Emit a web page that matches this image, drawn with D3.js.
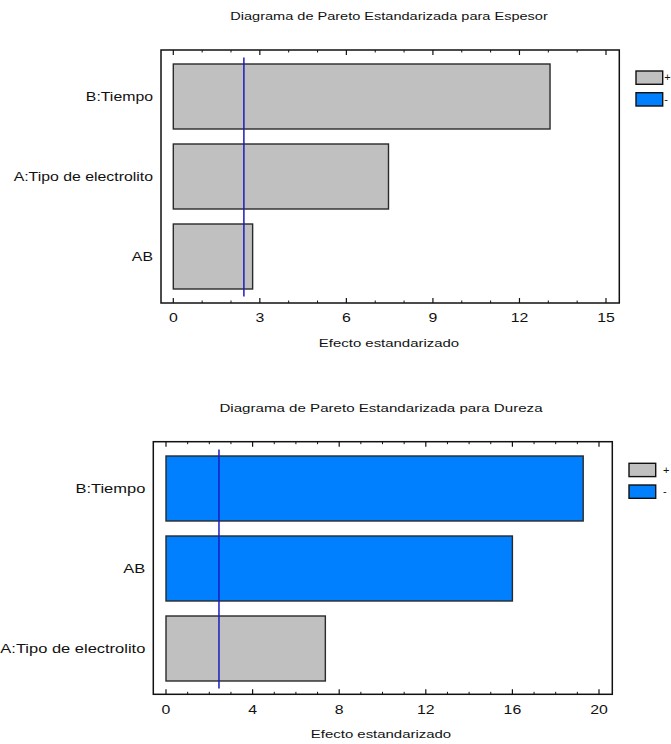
<!DOCTYPE html>
<html>
<head>
<meta charset="utf-8">
<script src="https://cdn.jsdelivr.net/npm/d3@7/dist/d3.min.js"></script>
<style>
  html, body { margin: 0; padding: 0; background: #fff; }
  svg { display: block; }
  text { font-family: "Liberation Sans", Arial, sans-serif; fill: #111; }
</style>
</head>
<body>
<svg id="chart" width="671" height="744"></svg>
<script>
// ---- Data ----
const espesorTitle = "Diagrama de Pareto Estandarizada para Espesor";
const espesorCategories = ["B:Tiempo", "A:Tipo de electrolito", "AB"];
const espesorValues = [13.06, 7.46, 2.75];
const espesorSigns = ["+", "+", "+"];
const espesorTicks = [0, 3, 6, 9, 12, 15];

const durezaTitle = "Diagrama de Pareto Estandarizada para Dureza";
const durezaCategories = ["B:Tiempo", "AB", "A:Tipo de electrolito"];
const durezaValues = [19.27, 16.0, 7.36];
const durezaSigns = ["-", "-", "+"];
const durezaTicks = [0, 4, 8, 12, 16, 20];

const criticalValue = 2.447;
const legendLabels = ["+", "-"];
const xAxisTitle = "Efecto estandarizado";

// ---- Styles ----
const signColor = { "+": "#c0c0c0", "-": "#0080ff" };
const SX = 1.32; // horizontal text stretch of the original picture

const svg = d3.select("#chart");

function stretchedText(g, x, y, str, size, anchor, sx) {
  return g.append("text")
    .attr("transform", `translate(${x},${y}) scale(${sx},1)`)
    .attr("text-anchor", anchor)
    .attr("dy", "0.35em")
    .style("font-size", size + "px")
    .text(str);
}

function drawChart(cfg) {
  const g = svg.append("g");
  const x = d3.scaleLinear().domain([0, cfg.ticks[cfg.ticks.length - 1]]).range([cfg.x0, cfg.x1]);
  const y = d3.scaleBand().domain(cfg.categories).range([cfg.bandTop, cfg.bandBottom])
    .paddingInner(0.1875).paddingOuter(0.09375);

  // title
  stretchedText(g, cfg.titleX, cfg.titleY, cfg.title, 10.5, "middle", SX * cfg.titleScale);

  // bars
  g.selectAll("rect.bar").data(cfg.categories).enter().append("rect")
    .attr("class", "bar")
    .attr("x", x(0))
    .attr("y", c => y(c))
    .attr("width", (c, i) => x(cfg.values[i]) - x(0))
    .attr("height", y.bandwidth())
    .attr("fill", (c, i) => signColor[cfg.signs[i]])
    .attr("stroke", "#2a2a2a")
    .attr("stroke-width", 1.4);

  // critical line
  g.append("line")
    .attr("x1", x(criticalValue)).attr("x2", x(criticalValue))
    .attr("y1", cfg.bandTop + 1).attr("y2", cfg.bandBottom)
    .attr("stroke", "#1c1cc0").attr("stroke-width", 1.5);

  // frame
  g.append("rect")
    .attr("x", cfg.fx0).attr("y", cfg.fy0)
    .attr("width", cfg.fx1 - cfg.fx0).attr("height", cfg.fy1 - cfg.fy0)
    .attr("fill", "none").attr("stroke", "#111").attr("stroke-width", 1.5);

  // ticks (major + minor), inward at top and bottom
  const maxV = cfg.ticks[cfg.ticks.length - 1];
  const minor = d3.range(0, maxV + 0.001, 1).filter(v => cfg.ticks.indexOf(v) < 0);
  [[cfg.fy1, -1], [cfg.fy0, 1]].forEach(([yy, dir]) => {
    g.selectAll(null).data(cfg.ticks).enter().append("line")
      .attr("x1", d => x(d)).attr("x2", d => x(d))
      .attr("y1", yy).attr("y2", yy + dir * 5)
      .attr("stroke", "#111").attr("stroke-width", 1.2);
    g.selectAll(null).data(minor).enter().append("line")
      .attr("x1", d => x(d)).attr("x2", d => x(d))
      .attr("y1", yy).attr("y2", yy + dir * 2.5)
      .attr("stroke", "#111").attr("stroke-width", 1);
  });

  // tick labels
  cfg.ticks.forEach(t => stretchedText(g, x(t), cfg.fy1 + 15, String(t), 12, "middle", SX));

  // category labels
  cfg.categories.forEach(c =>
    stretchedText(g, cfg.fx0 - 8, y(c) + y.bandwidth() / 2, c, 12, "end", SX * cfg.labelScale));

  // axis title
  stretchedText(g, cfg.titleX, cfg.fy1 + 40, xAxisTitle, 11, "middle", SX * 1.03);

  // legend
  legendLabels.forEach((s, i) => {
    g.append("rect")
      .attr("x", cfg.legX).attr("y", cfg.legY + i * 21.7)
      .attr("width", 26.7).attr("height", 13.3)
      .attr("fill", signColor[s]).attr("stroke", "#111").attr("stroke-width", 1.4);
    stretchedText(g, cfg.legTextX, cfg.legY + i * 21.7 + 6.5, s, 11, "start", 1);
  });
}

drawChart({
  title: espesorTitle, categories: espesorCategories, values: espesorValues,
  signs: espesorSigns, ticks: espesorTicks,
  x0: 173.3, x1: 606, bandTop: 56.5, bandBottom: 296.5,
  fx0: 161, fx1: 619.3, fy0: 50, fy1: 303,
  titleX: 389, titleY: 16, titleScale: 1.05, labelScale: 1.0,
  legX: 636, legY: 71, legTextX: 664.3
});

drawChart({
  title: durezaTitle, categories: durezaCategories, values: durezaValues,
  signs: durezaSigns, ticks: durezaTicks,
  x0: 166, x1: 599, bandTop: 448.5, bandBottom: 688.5,
  fx0: 153.3, fx1: 612.3, fy0: 441.7, fy1: 694.3,
  titleX: 381, titleY: 408.5, titleScale: 1.09, labelScale: 1.04,
  legX: 629, legY: 463.3, legTextX: 663
});
</script>
</body>
</html>
